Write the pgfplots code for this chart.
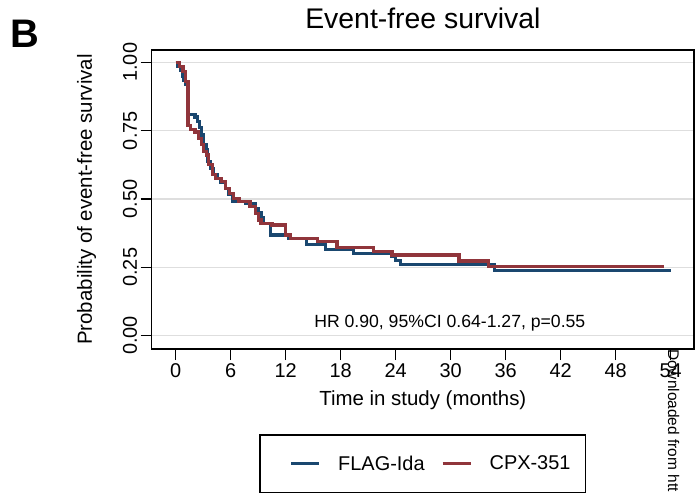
\documentclass[border=0pt]{standalone}
\usepackage{pgfplots}
\usepackage{pgfplotstable}
\pgfplotsset{compat=1.18}
\usepackage{fontspec}
\setmainfont{Liberation Sans}

\definecolor{stnavy}{RGB}{26,71,111}
\definecolor{stmaroon}{RGB}{144,53,59}
\definecolor{stgrid}{RGB}{222,222,222}

% Kaplan-Meier step values
\pgfplotstableread{
t s
0    1.000
0.2  0.985
0.5  0.970
0.7  0.950
0.9  0.935
1.1  0.920
1.35 0.810
2.1  0.800
2.4  0.783
2.6  0.760
2.8  0.734
3.0  0.700
3.3  0.680
3.5  0.637
3.8  0.610
4.1  0.590
4.5  0.576
4.9  0.560
5.4  0.539
5.8  0.515
6.2  0.490
7.6  0.482
8.7  0.465
9.0  0.450
9.3  0.430
9.6  0.411
10.3 0.368
12.3 0.356
14.3 0.332
16.3 0.314
19.4 0.300
23.6 0.289
24.0 0.275
24.5 0.261
34.8 0.237
54.0 0.237
}\flagida

\pgfplotstableread{
t s
0    1.000
0.4  0.985
0.8  0.966
1.1  0.930
1.35 0.770
1.6  0.755
2.1  0.745
2.5  0.720
2.8  0.700
3.0  0.673
3.4  0.661
3.6  0.625
4.0  0.590
4.3  0.576
5.0  0.564
5.4  0.539
5.9  0.521
6.3  0.503
6.9  0.490
8.1  0.472
8.7  0.447
9.0  0.423
9.3  0.411
10.5 0.405
12.0 0.368
12.5 0.356
15.5 0.344
17.6 0.322
21.6 0.307
23.6 0.295
30.9 0.273
34.1 0.252
53.3 0.252
}\cpx

\begin{document}
\begin{tikzpicture}
\begin{axis}[
  at={(151.7bp,149bp)}, anchor=south west,
  scale only axis, width=542.3bp, height=299bp,
  xmin=-2.62, xmax=56.54, ymin=-0.049, ymax=1.045,
  xtick={0,6,...,54}, ytick={0,0.25,0.5,0.75,1},
  tick align=outside, xtick pos=left, ytick pos=left,
  major tick length=11bp,
  every tick/.style={black, line width=1.5bp},
  axis line style={line width=1.5bp},
  ymajorgrids, grid style={stgrid, line width=1.3bp},
  /pgf/number format/assume math mode=true,
  xticklabel style={font=\fontsize{20}{24}\selectfont},
  yticklabel style={font=\fontsize{20}{24}\selectfont, rotate=90, anchor=south,
    /pgf/number format/fixed, /pgf/number format/fixed zerofill,
    /pgf/number format/precision=2},
  title={Event-free survival},
  title style={at={(axis description cs:0.5,1.0512)}, anchor=base,
    font=\fontsize{28.5}{34}\selectfont},
  xlabel={Time in study (months)},
  xlabel style={at={(axis description cs:0.5,-0.1873)}, anchor=base,
    font=\fontsize{20.5}{24}\selectfont},
  ylabel={Probability of event-free survival},
  ylabel style={at={(axis description cs:-0.1101,0.5)}, anchor=base, rotate=0,
    font=\fontsize{20.5}{24}\selectfont},
  legend columns=2,
  legend style={at={(axis description cs:0.5,-0.2843)}, anchor=north,
    draw=black, line width=1.5bp, font=\fontsize{20}{24}\selectfont,
    inner xsep=15bp, inner ysep=19bp, nodes={inner xsep=0pt},
    /tikz/every even column/.append style={column sep=2bp}},
  legend image code/.code={%
    \path[draw=none] (-16bp,0bp) -- (47bp,0bp);
    \draw[#1, line width=3.2bp] (0bp,0bp) -- (28bp,0bp);},
  clip=false,
]
\addplot[const plot, stnavy, line width=3.2bp] table[x=t, y=s] {\flagida};
\addlegendentry{FLAG-Ida}
\addplot[const plot, stmaroon, line width=3.2bp] table[x=t, y=s] {\cpx};
\addlegendentry{CPX-351}
\node[anchor=base, font=\fontsize{17.7}{21}\selectfont] at (axis cs:29.9,0.028)
  {HR 0.90, 95\%CI 0.64-1.27, p=0.55};
\end{axis}
\node[anchor=base west, inner sep=0pt, font=\fontsize{40}{46}\selectfont\bfseries]
  at (10bp,450bp) {B};
\node[rotate=-90, anchor=base west, inner sep=0pt, font=\fontsize{15.5}{18}\selectfont]
  at (668bp,149bp) {Downloaded from htt};
\pgfresetboundingbox
\path[use as bounding box] (0bp,0bp) rectangle (698bp,498bp);
\end{tikzpicture}
\end{document}
